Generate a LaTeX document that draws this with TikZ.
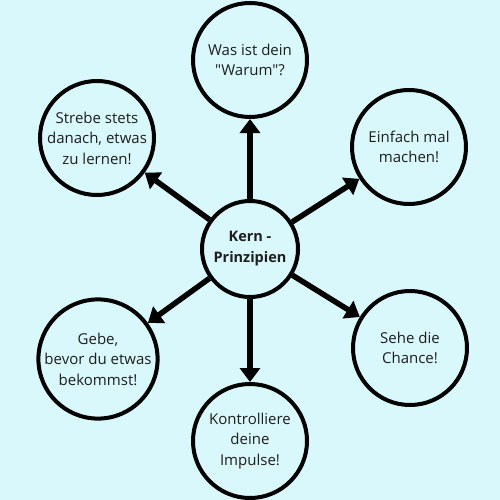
\documentclass[tikz,border=0pt]{standalone}
\usepackage{fontspec}
\setmainfont{Open Sans}
\newfontfamily\ideafont{Open Sans}
\usepackage{xcolor}
\usetikzlibrary{arrows.meta}
\definecolor{skybg}{RGB}{216,248,252}
\definecolor{inkgray}{RGB}{30,30,30}

\begin{document}
\begin{tikzpicture}[x=1pt, y=-1pt, >={Triangle[length=14pt, width=20pt]},
  idea/.style={circle, draw, line width=4pt, minimum size=114pt, inner sep=0pt,
    align=center, text=inkgray, font=\ideafont\fontsize{15}{20.5}\selectfont},
  core/.style={idea, minimum size=96pt, font=\ideafont\fontsize{14.5}{21}\selectfont\bfseries},
  spoke/.style={->, line width=5.5pt}]
  \fill[skybg] (0,0) rectangle (500,500);
  \useasboundingbox (0,0) rectangle (500,500);
  % centre
  \node[core] (kern) at (250,249) {Kern -\\Prinzipien};
  % ring of principles
  \node[idea] (warum)   at (250,60)  {Was ist dein\\"Warum"?};
  \node[idea] (einfach) at (409,147) {Einfach mal\\machen!};
  \node[idea] (chance)  at (410,348) {Sehe die\\Chance!};
  \node[idea] (impulse) at (250,441) {Kontrolliere\\deine\\Impulse!};
  \node[idea] (gebe)    at (98,359)  {Gebe,\\bevor du etwas\\bekommst!};
  \node[idea] (lernen)  at (97,138)  {Strebe stets\\danach, etwas\\zu lernen!};
  \foreach \tgt in {warum, einfach, chance, impulse, gebe, lernen}
    \draw[spoke] (kern) -- (\tgt);
\end{tikzpicture}
\end{document}
